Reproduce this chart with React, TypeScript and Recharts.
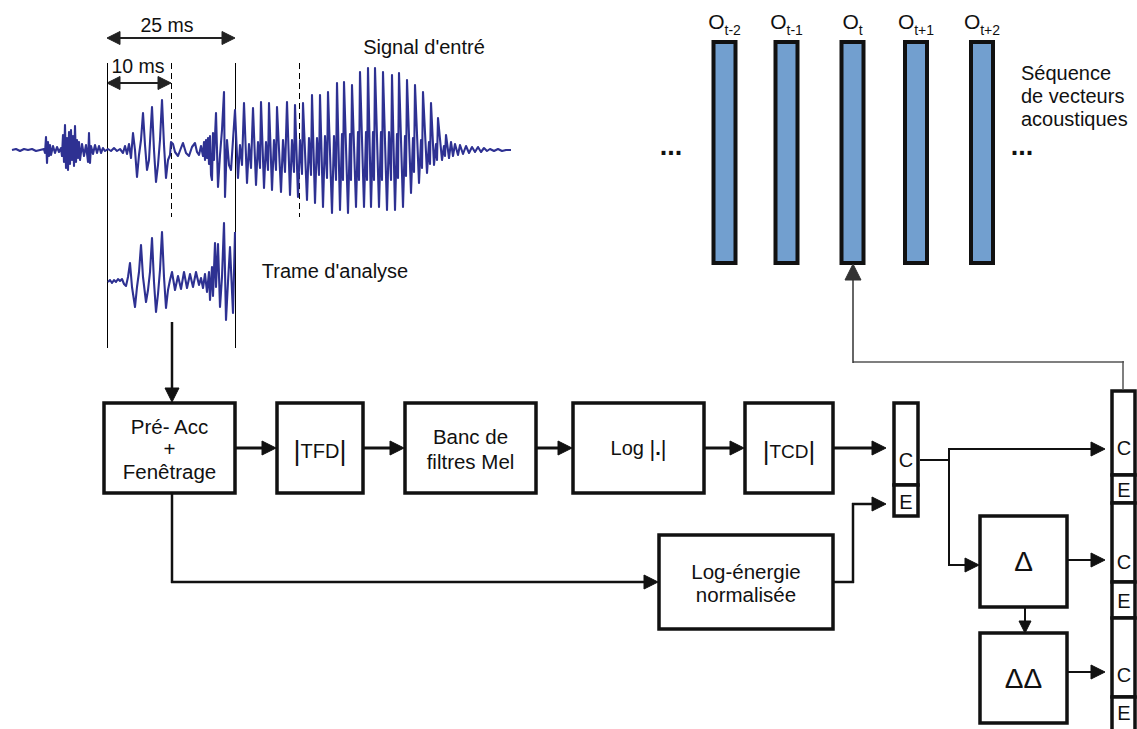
import React from 'react';
import { ComposedChart, XAxis, YAxis, Line, ReferenceArea, ReferenceLine, ReferenceDot } from 'recharts';

const W = 1137;
const H = 729;
const FONT = '"Liberation Sans", Arial, Helvetica, sans-serif';
const INK = '#111';
const WAVE = '#2e3192';
const VECTOR_FILL = '#729fcf';

// input speech signal: [time, amplitude]
const signalSamples: [number, number][] = [
  [12, 0], [16, 1], [20, -1], [24, 1], [28, 0], [32, 1], [36, -1], [40, 0], [44, 1],
  [45, -3], [46, 13], [47, -13], [48, 8], [49, -6], [50, 5], [51, -5], [53, 4], [55, -3], [57, 3], [59, -2], [61, 2],
  [62, -6], [63, 15], [64, -12], [65, 25], [66, -18], [67, 12], [68, -20], [69, 18], [70, -14], [71, 20], [72, -10],
  [73, 14], [74, -16], [75, 24], [76, -12], [77, 10], [78, -8], [79, 8], [80, -10], [82, 6], [84, -6], [86, 5],
  [88, -12], [89, 17], [90, -13], [91, 4], [93, -4], [95, 5], [97, -3], [99, 4], [101, -3], [103, 2], [105, -1],
  [108, 1], [111, -1], [114, 2], [117, -1], [120, 1], [123, -3], [125, 4], [127, -4],
  [129, 6], [131, -8], [133, 17], [135, 0], [137, -27], [139, -5], [141, 10], [143, 37], [145, 5], [147, -20],
  [149, -10], [150, 8], [152, 43], [154, 0], [156, -32], [158, -15], [160, 10], [162, 50], [164, 5], [166, -28],
  [168, -10], [170, -5], [171, 8],
  [173, 6], [175, -2], [178, -6], [181, 2], [183, 7], [186, -3], [189, -6], [192, 3], [195, 7], [197, -2], [199, -5],
  [201, 4], [203, -6], [204, 8], [205, -10], [206, 10], [207, -8], [208, 12], [209, -14], [210, 14], [211, -25],
  [212, -30], [213, 17], [214, -10], [216, 37], [217, 0], [218, -37], [220, -5], [222, 20], [224, 58], [225, -47],
  [227, 10], [229, -15],
  [231, -20], [235, 40], [238, -28], [240, 5], [242, -15],
  [244, 47], [247, -33], [249, 6], [251, -18],
  [253, 42], [256, -35], [258, 8], [260, -18],
  [261, 48], [264, -38], [266, 8], [268, -20],
  [269, 47], [272, -40], [274, 10], [276, -20],
  [277, 43], [281, -42], [283, 10], [285, -22],
  [287, 48], [290, -45], [292, 10], [294, -22],
  [295, 45], [298, -47], [300, 10], [302, -24],
  [303, 47], [307, -50], [309, 12], [311, -25],
  [312, 55], [315, -53], [317, 12], [319, -25],
  [320, 55], [323, -57], [325, 14], [327, -28],
  [328, 58], [332, -63], [334, 14], [336, -30],
  [337, 67], [340, -60], [342, 16], [343, -30],
  [344, 68], [348, -63], [350, 16], [351, -30],
  [352, 65], [356, -57], [358, 18], [359, -30],
  [360, 78], [364, -57], [366, 18], [367, -30],
  [368, 82], [371, -57], [373, 18], [374, -30],
  [375, 82], [379, -57], [381, 18], [382, -30],
  [383, 78], [387, -60], [389, 18], [391, -30],
  [392, 75], [395, -60], [397, 16], [398, -28],
  [399, 77], [403, -57], [405, 14], [406, -26],
  [407, 70], [411, -43], [413, 12], [414, -22],
  [415, 65], [419, -33], [421, 10], [422, -18],
  [423, 58], [427, -23], [429, 8], [430, -14],
  [431, 47], [434, -15], [436, 6], [437, -10],
  [438, 32], [442, -10], [444, 4], [445, -6],
  [446, 15], [449, -8], [451, 8], [453, -6], [455, 6], [458, -5], [460, 5], [463, -4], [466, 4], [469, -3],
  [472, 3], [475, -2], [478, 3], [481, -2], [484, 2], [487, -1], [490, 1], [494, -1], [498, 1], [502, -1],
  [506, 0], [511, 0],
];

// analysis frame (25 ms window)
const frameSamples: [number, number][] = [
  [108, 0], [110, 2], [112, -1], [114, 2], [116, 0], [118, 3], [120, 1], [122, 3], [124, -2], [126, -4], [128, 5],
  [130, 19], [132, -5], [135, -25], [137, -5], [139, 10], [141, 37], [143, 5], [146, -20], [148, -8], [150, 10],
  [152, 44], [154, 0], [156, -30], [158, -12], [160, 12], [162, 50], [164, 5], [166, -26], [168, -8], [170, 2],
  [172, 10], [175, -8], [178, 6], [181, -7], [184, 10], [187, -6], [190, 8], [193, -5], [196, 10], [199, -3],
  [201, 4], [203, -6], [205, 8], [207, -10], [209, 10], [210, -18], [212, 15], [213, -14], [215, 39], [216, -5],
  [218, 38], [220, -25], [222, 5], [224, 59], [226, -38], [228, 0], [230, 35], [233, -31], [235, 50],
];

const SIGNAL_BASE = 150;
const FRAME_BASE = 282;

const vectorSubs = ['t-2', 't-1', 't', 't+1', 't+2'];
const vectorCenters = [724.5, 786.5, 852.5, 916, 982];

// processing blocks: [x1, y1, x2, y2]
const blockBoxes: [number, number, number, number][] = [
  [104, 403, 235, 493],
  [277, 403, 363, 493],
  [405, 403, 536, 493],
  [573, 403, 704, 493],
  [745, 403, 833, 493],
  [659, 535, 833, 629],
  [980, 516, 1067, 607],
  [980, 633, 1067, 723],
];

const blockLabels: string[][] = [
  ['Pré- Acc', '+', 'Fenêtrage'],
  ['|TFD|'],
  ['Banc de', 'filtres Mel'],
  ['Log |.|'],
  ['|TCD|'],
  ['Log-énergie', 'normalisée'],
  ['Δ'],
  ['ΔΔ'],
];

// feature vector cells (C = cepstre, E = énergie)
const cellLabels = ['C', 'E'];
const smallCells: [number, number, number, number][] = [
  [894, 403, 918, 485],
  [894, 485, 918, 516],
];
const bigCells: [number, number, number, number][] = [
  [1112, 391, 1135, 475],
  [1112, 475, 1135, 503],
  [1112, 503, 1135, 582],
  [1112, 582, 1135, 618],
  [1112, 618, 1135, 697],
  [1112, 697, 1135, 740],
];
const bigCellLabelY = [448, 490, 562, 601, 675, 713];

type Seg = {
  a: [number, number];
  b: [number, number];
  w: number;
  c?: string;
  head?: 'end' | 'both';
  hl?: number;
  dash?: string;
};

const segments: Seg[] = [
  // time marks on the signal
  { a: [107, 38], b: [235, 38], w: 2, c: '#222', head: 'both', hl: 13 },
  { a: [107, 83], b: [171, 83], w: 2, c: '#222', head: 'both', hl: 13 },
  { a: [107.5, 63], b: [107.5, 348], w: 1, c: '#000' },
  { a: [235.5, 63], b: [235.5, 348], w: 1, c: '#000' },
  { a: [171.5, 63], b: [171.5, 217], w: 1, c: '#000', dash: '6 4' },
  { a: [299.5, 63], b: [299.5, 217], w: 1, c: '#000', dash: '6 4' },
  // frame -> pre-processing
  { a: [172, 322], b: [172, 402], w: 2.5, head: 'end' },
  // main chain
  { a: [236, 448], b: [276, 448], w: 3, head: 'end' },
  { a: [364, 448], b: [404, 448], w: 3, head: 'end' },
  { a: [537, 448], b: [572, 448], w: 3, head: 'end' },
  { a: [705, 448], b: [744, 448], w: 3, head: 'end' },
  { a: [834, 448], b: [886, 448], w: 3, head: 'end' },
  // energy branch
  { a: [172, 494], b: [172, 583], w: 2.5 },
  { a: [171, 582], b: [658, 582], w: 2.5, head: 'end' },
  { a: [834, 582], b: [854, 582], w: 2.5 },
  { a: [853, 583], b: [853, 503], w: 2.5 },
  { a: [852, 504], b: [886, 504], w: 2.5, head: 'end' },
  // C output, deltas
  { a: [920, 460], b: [950, 460], w: 2 },
  { a: [949, 448], b: [949, 566], w: 2 },
  { a: [948, 449], b: [1105, 449], w: 2, head: 'end' },
  { a: [948, 565], b: [979, 565], w: 2, head: 'end' },
  { a: [1068, 560], b: [1105, 560], w: 2, head: 'end' },
  { a: [1068, 672], b: [1105, 672], w: 2, head: 'end' },
  { a: [1025, 608], b: [1025, 633], w: 2, head: 'end', hl: 12 },
  // feedback to o_t
  { a: [1123, 390], b: [1123, 361], w: 1.5, c: '#555' },
  { a: [1124, 362], b: [853, 362], w: 1.5, c: '#555' },
  { a: [853, 363], b: [853, 264], w: 1.5, c: '#333', head: 'end', hl: 16 },
];

const seqLines = ['Séquence', 'de vecteurs', 'acoustiques'];

const signalData = signalSamples.map(([t, a]) => ({ x: t, y: SIGNAL_BASE - a }));
const frameData = frameSamples.map(([t, a]) => ({ x: t, y: FRAME_BASE - a }));

function arrowShape(seg: Seg) {
  return (p: any) => {
    const { x1, y1, x2, y2 } = p;
    const color = seg.c ?? INK;
    const dx = x2 - x1;
    const dy = y2 - y1;
    const len = Math.hypot(dx, dy) || 1;
    const ux = dx / len;
    const uy = dy / len;
    const hl = seg.hl ?? 14;
    const hw = hl * 0.5;
    let sx = x1, sy = y1, ex = x2, ey = y2;
    const heads: string[] = [];
    const tri = (tx: number, ty: number, vx: number, vy: number) =>
      `${tx},${ty} ${tx - vx * hl - vy * hw},${ty - vy * hl + vx * hw} ${tx - vx * hl + vy * hw},${ty - vy * hl - vx * hw}`;
    if (seg.head === 'end' || seg.head === 'both') {
      heads.push(tri(x2, y2, ux, uy));
      ex = x2 - ux * hl * 0.7;
      ey = y2 - uy * hl * 0.7;
    }
    if (seg.head === 'both') {
      heads.push(tri(x1, y1, -ux, -uy));
      sx = x1 + ux * hl * 0.7;
      sy = y1 + uy * hl * 0.7;
    }
    return (
      <g>
        <line x1={sx} y1={sy} x2={ex} y2={ey} stroke={color} strokeWidth={seg.w} strokeDasharray={seg.dash} />
        {heads.map((pts, i) => (
          <polygon key={i} points={pts} fill={color} stroke={color} strokeWidth={1} strokeLinejoin="round" />
        ))}
      </g>
    );
  };
}

const pipeText = (cx: number, cy: number, label: string, size: number) => (
  <text x={cx} y={cy} textAnchor="middle" dominantBaseline="central" fontFamily={FONT} fill={INK}>
    <tspan fontSize={size + 7}>|</tspan>
    <tspan fontSize={size}>{label}</tspan>
    <tspan fontSize={size + 7}>|</tspan>
  </text>
);

function blockText(i: number, cx: number, cy: number) {
  const lines = blockLabels[i];
  if (lines[0] === '|TFD|') return pipeText(cx, cy + 3, 'TFD', 20);
  if (lines[0] === '|TCD|') return pipeText(cx, cy + 3, 'TCD', 19);
  if (lines[0] === 'Log |.|')
    return (
      <text x={cx} y={cy} textAnchor="middle" dominantBaseline="central" fontFamily={FONT} fill={INK} fontSize={20}>
        Log <tspan fontSize={22}>|</tspan>
        <tspan fontWeight="bold">.</tspan>
        <tspan fontSize={22}>|</tspan>
      </text>
    );
  if (lines[0].startsWith('Δ'))
    return (
      <text x={cx} y={cy} textAnchor="middle" dominantBaseline="central" fontFamily={FONT} fill={INK} fontSize={28}>
        {lines[0]}
      </text>
    );
  const gap = lines.length === 3 ? 22.5 : lines[0] === 'Banc de' ? 25 : 23;
  const top = cy - ((lines.length - 1) * gap) / 2;
  return (
    <text textAnchor="middle" dominantBaseline="central" fontFamily={FONT} fill={INK} fontSize={20.5}>
      {lines.map((l, k) => (
        <tspan key={k} x={cx} y={top + k * gap}>
          {l}
        </tspan>
      ))}
    </text>
  );
}

function TextAt(key: string, x: number, y: number, render: (cx: number, cy: number) => React.ReactElement) {
  return <ReferenceDot key={key} x={x} y={y} r={0} ifOverflow="visible" shape={(p: any) => render(p.cx, p.cy)} />;
}

const plain = (s: string, size: number, anchor: 'start' | 'middle' = 'middle', bold = false) => (cx: number, cy: number) => (
  <text x={cx} y={cy} textAnchor={anchor} dominantBaseline="central" fontFamily={FONT} fill={INK} fontSize={size} fontWeight={bold ? 'bold' : 'normal'}>
    {s}
  </text>
);

export default function App() {
  return (
    <div style={{ position: 'absolute', left: 0, top: 0, width: W, height: H, background: '#fff' }}>
      <ComposedChart width={W} height={H} margin={{ top: 0, right: 0, bottom: 0, left: 0 }}>
        <XAxis type="number" dataKey="x" domain={[0, W]} allowDataOverflow hide />
        <YAxis type="number" dataKey="y" domain={[0, H]} allowDataOverflow reversed hide />

        {vectorCenters.map((c, i) => (
          <ReferenceArea
            key={`v${i}`}
            x1={c - 11}
            x2={c + 11}
            y1={42}
            y2={263}
            fill={VECTOR_FILL}
            fillOpacity={1}
            stroke={INK}
            strokeWidth={4}
            ifOverflow="visible"
          />
        ))}
        {blockBoxes.map(([x1, y1, x2, y2], i) => (
          <ReferenceArea key={`b${i}`} x1={x1} x2={x2} y1={y1} y2={y2} fill="#fff" fillOpacity={1} stroke={INK} strokeWidth={3.5} ifOverflow="visible" />
        ))}
        {smallCells.map(([x1, y1, x2, y2], i) => (
          <ReferenceArea key={`s${i}`} x1={x1} x2={x2} y1={y1} y2={y2} fill="#fff" fillOpacity={1} stroke={INK} strokeWidth={3.5} ifOverflow="visible" />
        ))}
        {bigCells.map(([x1, y1, x2, y2], i) => (
          <ReferenceArea key={`c${i}`} x1={x1} x2={x2} y1={y1} y2={y2} fill="#fff" fillOpacity={1} stroke={INK} strokeWidth={3.5} ifOverflow="hidden" />
        ))}

        {segments.map((s, i) => (
          <ReferenceLine
            key={`a${i}`}
            segment={[{ x: s.a[0], y: s.a[1] }, { x: s.b[0], y: s.b[1] }]}
            ifOverflow="visible"
            shape={arrowShape(s)}
          />
        ))}

        <Line data={signalData} dataKey="y" type="linear" dot={false} activeDot={false} stroke={WAVE} strokeWidth={2.1} strokeLinejoin="round" isAnimationActive={false} />
        <Line data={frameData} dataKey="y" type="linear" dot={false} activeDot={false} stroke={WAVE} strokeWidth={2.1} strokeLinejoin="round" isAnimationActive={false} />

        {TextAt('t25', 167, 25, plain('25 ms', 19.5))}
        {TextAt('t10', 138, 66, plain('10 ms', 19.5))}
        {TextAt('sig', 424, 47, plain("Signal d'entré", 20))}
        {TextAt('trame', 335, 271, plain("Trame d'analyse", 20))}
        {seqLines.map((l, i) => TextAt(`seq${i}`, 1021, 73 + i * 23, plain(l, 20, 'start')))}
        {TextAt('dl', 671, 146, plain('...', 27, 'middle', true))}
        {TextAt('dr', 1022, 146, plain('...', 27, 'middle', true))}

        {vectorSubs.map((sub, i) =>
          TextAt(`o${i}`, vectorCenters[i], 29, (cx, cy) => (
            <text x={cx} y={cy} textAnchor="middle" fontFamily={FONT} fill={INK}>
              <tspan fontSize={21}>O</tspan>
              <tspan fontSize={14} dy={6}>
                {sub}
              </tspan>
            </text>
          ))
        )}

        {blockBoxes.map(([x1, y1, x2, y2], i) => TextAt(`bt${i}`, (x1 + x2) / 2, (y1 + y2) / 2, (cx, cy) => blockText(i, cx, cy)))}

        {TextAt('sc', 906, 460, plain(cellLabels[0], 20))}
        {TextAt('se', 906, 502, plain(cellLabels[1], 20))}
        {bigCellLabelY.map((y, i) => TextAt(`bc${i}`, 1124, y, plain(cellLabels[i % 2], 20)))}
      </ComposedChart>
    </div>
  );
}
